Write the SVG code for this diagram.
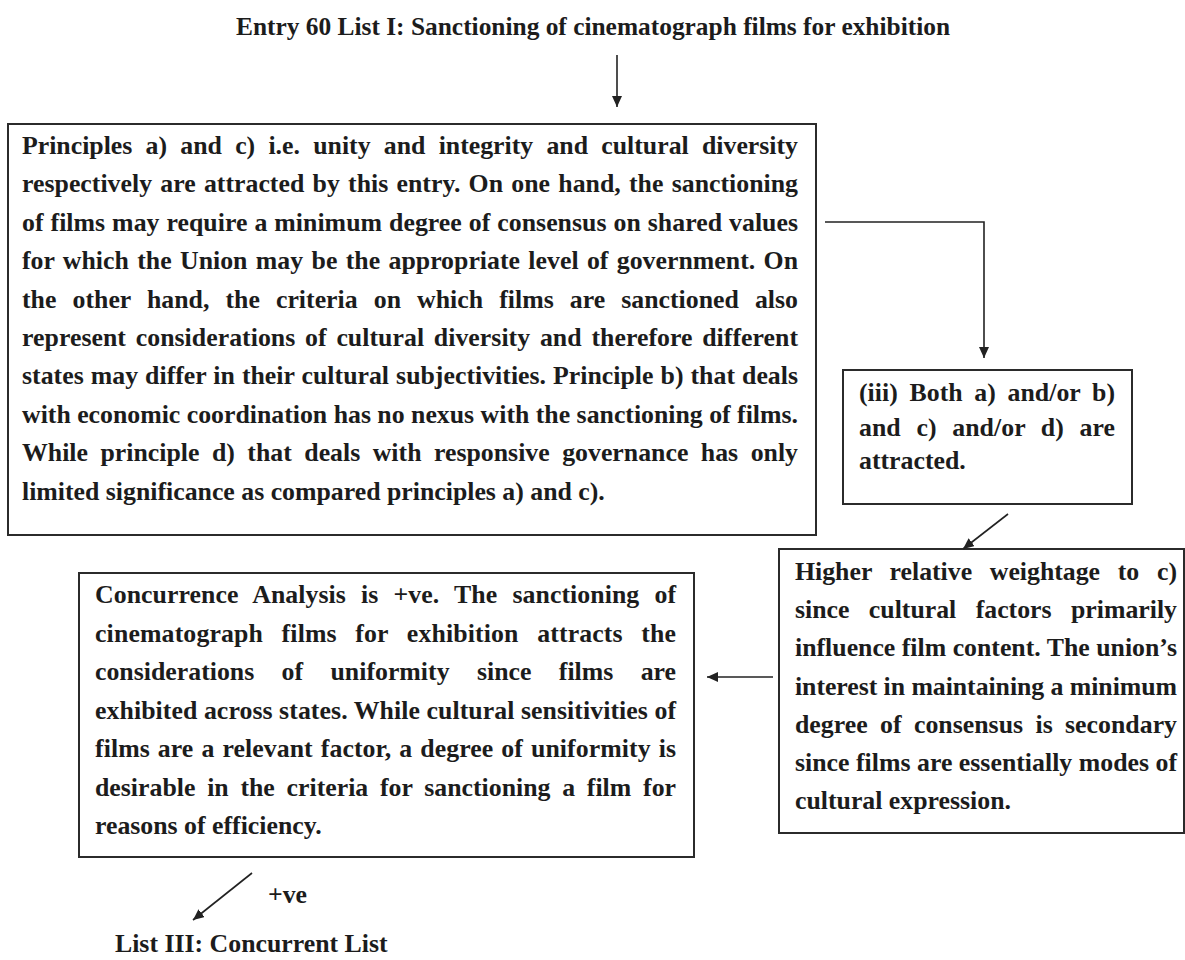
<svg xmlns="http://www.w3.org/2000/svg" width="1185" height="960" viewBox="0 0 1185 960">
<style>
.bg{fill:#ffffff}
.box{fill:#ffffff;stroke:#2b2b2b;stroke-width:2}
.t{font-family:"Liberation Serif","Times New Roman",serif;font-weight:bold;font-size:25.8px;fill:#1c1c1c}
.ttl{font-family:"Liberation Serif","Times New Roman",serif;font-weight:bold;font-size:25.4px;fill:#1c1c1c}
.conn{fill:none;stroke:#222222;stroke-width:1.6}
</style>
<defs>
<marker id="ah" markerUnits="userSpaceOnUse" markerWidth="12" markerHeight="10" refX="11" refY="5" orient="auto">
<path d="M0,0 L11,5 L0,10 z" fill="#222222"/>
</marker>
</defs>
<rect class="bg" x="0" y="0" width="1185" height="960"/>

<g id="title">
<text class="ttl" x="236" y="35">Entry 60 List I: Sanctioning of cinematograph films for exhibition</text>
</g>

<g id="principles">
<rect class="box" x="8" y="124" width="808" height="411"/>
<text class="t" x="22" y="154" word-spacing="6.8" textLength="776" lengthAdjust="spacing">Principles a) and c) i.e. unity and integrity and cultural diversity</text>
<text class="t" x="22" y="192.4" word-spacing="1.78" textLength="776" lengthAdjust="spacing">respectively are attracted by this entry. On one hand, the sanctioning</text>
<text class="t" x="22" y="230.8" word-spacing="0.5" textLength="776" lengthAdjust="spacing">of films may require a minimum degree of consensus on shared values</text>
<text class="t" x="22" y="269.2" word-spacing="1.88" textLength="776" lengthAdjust="spacing">for which the Union may be the appropriate level of government. On</text>
<text class="t" x="22" y="307.6" word-spacing="9.6" textLength="776" lengthAdjust="spacing">the other hand, the criteria on which films are sanctioned also</text>
<text class="t" x="22" y="346" word-spacing="3.27" textLength="776" lengthAdjust="spacing">represent considerations of cultural diversity and therefore different</text>
<text class="t" x="22" y="384.4" word-spacing="0.56" textLength="776" lengthAdjust="spacing">states may differ in their cultural subjectivities. Principle b) that deals</text>
<text class="t" x="22" y="422.8" textLength="776" lengthAdjust="spacing">with economic coordination has no nexus with the sanctioning of films.</text>
<text class="t" x="22" y="461.2" word-spacing="6.03" textLength="776" lengthAdjust="spacing">While principle d) that deals with responsive governance has only</text>
<text class="t" x="22" y="499.6">limited significance as compared principles a) and c).</text>
</g>

<g id="both">
<rect class="box" x="843" y="370" width="289" height="134"/>
<text class="t" x="859" y="401" word-spacing="5.2" textLength="256" lengthAdjust="spacing">(iii) Both a) and/or b)</text>
<text class="t" x="859" y="435.5" word-spacing="9.2" textLength="256" lengthAdjust="spacing">and c) and/or d) are</text>
<text class="t" x="859" y="469">attracted.</text>
</g>

<g id="weightage">
<rect class="box" x="779" y="549" width="405" height="284"/>
<text class="t" x="795" y="580" word-spacing="11.3" textLength="382" lengthAdjust="spacing">Higher relative weightage to c)</text>
<text class="t" x="795" y="618.2" word-spacing="12.9" textLength="382" lengthAdjust="spacing">since cultural factors primarily</text>
<text class="t" x="795" y="656.4" textLength="382" lengthAdjust="spacing">influence film content. The union’s</text>
<text class="t" x="795" y="694.6" textLength="382" lengthAdjust="spacing">interest in maintaining a minimum</text>
<text class="t" x="795" y="732.8" word-spacing="5.9" textLength="382" lengthAdjust="spacing">degree of consensus is secondary</text>
<text class="t" x="795" y="771" textLength="382" lengthAdjust="spacing">since films are essentially modes of</text>
<text class="t" x="795" y="809.2">cultural expression.</text>
</g>

<g id="concurrence">
<rect class="box" x="79" y="573" width="615" height="284"/>
<text class="t" x="95" y="603.3" word-spacing="8.7" textLength="581" lengthAdjust="spacing">Concurrence Analysis is +ve. The sanctioning of</text>
<text class="t" x="95" y="641.8" word-spacing="12" textLength="581" lengthAdjust="spacing">cinematograph films for exhibition attracts the</text>
<text class="t" x="95" y="680.3" word-spacing="20.9" textLength="581" lengthAdjust="spacing">considerations of uniformity since films are</text>
<text class="t" x="95" y="718.8" textLength="581" lengthAdjust="spacing">exhibited across states. While cultural sensitivities of</text>
<text class="t" x="95" y="757.3" word-spacing="1.5" textLength="581" lengthAdjust="spacing">films are a relevant factor, a degree of uniformity is</text>
<text class="t" x="95" y="795.8" word-spacing="5.3" textLength="581" lengthAdjust="spacing">desirable in the criteria for sanctioning a film for</text>
<text class="t" x="95" y="834.3">reasons of efficiency.</text>
</g>

<g id="concurrent-list">
<text class="t" x="115" y="952" font-size="26">List III: Concurrent List</text>
</g>

<g id="connectors">
<line class="conn" x1="617" y1="55" x2="617" y2="107" marker-end="url(#ah)"/>
<polyline class="conn" points="825,222 984,222 984,358" marker-end="url(#ah)"/>
<line class="conn" x1="1008" y1="514" x2="963" y2="549" marker-end="url(#ah)"/>
<line class="conn" x1="773" y1="677" x2="707" y2="677" marker-end="url(#ah)"/>
<line class="conn" x1="252" y1="873" x2="193" y2="920" marker-end="url(#ah)"/>
<text class="t" x="268" y="903">+ve</text>
</g>
</svg>
